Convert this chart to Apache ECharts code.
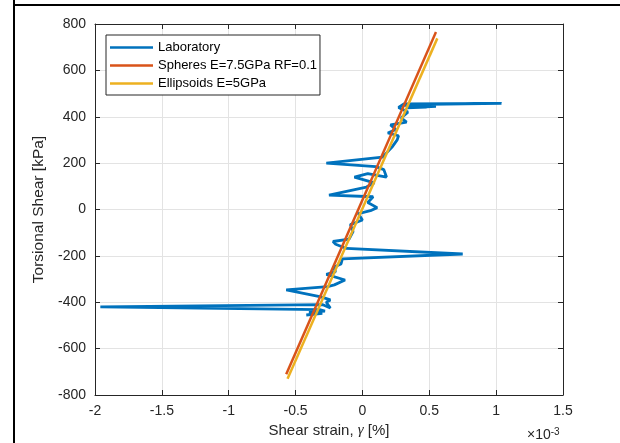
<!DOCTYPE html>
<html>
<head>
<meta charset="utf-8">
<script src="https://cdn.jsdelivr.net/npm/echarts@6/dist/echarts.min.js"></script>
<style>
html,body{margin:0;padding:0;background:#fff;}
#chart{width:620px;height:443px;}
</style>
</head>
<body>
<div id="chart"></div>
<script>
// Values are in units of 1e-3 on the x axis (displayed with "×10^-3")
const xTicks = [-2, -1.5, -1, -0.5, 0, 0.5, 1, 1.5];
const yTicks = [-800, -600, -400, -200, 0, 200, 400, 600, 800];
const seriesNames = ['Laboratory', 'Spheres E=7.5GPa RF=0.1', 'Ellipsoids E=5GPa'];

const labX = [-0.42,-0.30,-0.40,-0.28,-0.32,-1.96,-0.30,-0.24,-0.27,-0.24,-0.31,-0.57,-0.26,-0.21,-0.13,-0.27,-0.20,-0.22,-0.16,-0.15,0.75,-0.12,-0.20,-0.22,-0.10,-0.07,-0.09,0.00,-0.03,0.06,0.11,0.04,0.08,-0.25,0.03,0.09,-0.06,0.04,0.18,0.16,0.10,-0.27,0.15,0.22,0.26,0.27,0.19,0.25,0.21,0.33,0.29,0.34,0.27,0.31,1.04,0.36,0.55,0.33,0.48,0.30];
const labY = [-455,-448,-442,-438,-432,-420,-410,-425,-400,-390,-377,-347,-333,-325,-304,-280,-268,-250,-235,-213,-192,-168,-150,-138,-128,-95,-65,-45,-18,-5,8,30,55,62,97,115,140,155,140,172,185,200,226,268,300,318,330,345,365,377,395,420,440,455,458,452,445,438,442,450];

const spheresX = [-0.57, 0.55];
const spheresY = [-710, 765];
const ellipsoidsX = [-0.56, 0.56];
const ellipsoidsY = [-730, 738];

const zip = (a, b) => a.map((v, i) => [v, b[i]]);

const chart = echarts.init(document.getElementById('chart'), null, {renderer: 'canvas'});
const txt = '#262626';
const font = 'Liberation Sans, Arial, Helvetica, sans-serif';

const axisCommon = {
  axisLine: {show: true, onZero: false, lineStyle: {color: txt, width: 1}},
  axisTick: {show: true, inside: true, length: 5, lineStyle: {color: txt, width: 1}},
};

chart.setOption({
  animation: false,
  backgroundColor: '#fff',
  grid: {left: 95, right: 57, top: 24, bottom: 48, containLabel: false},
  legend: {
    data: seriesNames.map(n => ({name: n, icon: 'rect'})),
    orient: 'vertical',
    left: 106, top: 35,
    itemWidth: 43, itemHeight: 2.5, itemGap: 5,
    padding: [6, 3, 5, 4],
    borderColor: txt, borderWidth: 1,
    backgroundColor: '#fff',
    textStyle: {fontFamily: font, fontSize: 13, color: '#000'}
  },
  xAxis: [
    Object.assign({
      type: 'value', min: xTicks[0], max: xTicks[xTicks.length-1], interval: 0.5,
      position: 'bottom',
      axisLabel: {fontFamily: font, fontSize: 14, color: txt, margin: 9},
      splitLine: {show: true, lineStyle: {color: '#e3e3e3', width: 1}},
      name: '{n|Shear strain, }{g|γ}{n| [%]}',
      nameLocation: 'middle', nameGap: 28,
      nameTextStyle: {rich: {
        n: {fontFamily: font, fontSize: 15, color: txt},
        g: {fontFamily: 'Liberation Serif, DejaVu Serif, serif', fontStyle: 'italic', fontSize: 15, color: txt}
      }}
    }, axisCommon),
    Object.assign({
      type: 'value', min: xTicks[0], max: xTicks[xTicks.length-1], interval: 0.5,
      position: 'top', axisLabel: {show: false}, splitLine: {show: false}
    }, axisCommon)
  ],
  yAxis: [
    Object.assign({
      type: 'value', min: yTicks[0], max: yTicks[yTicks.length-1], interval: 200,
      position: 'left',
      axisLabel: {fontFamily: font, fontSize: 14, color: txt, margin: 9},
      splitLine: {show: true, lineStyle: {color: '#e3e3e3', width: 1}},
      name: 'Torsional Shear [kPa]',
      nameLocation: 'middle', nameGap: 42,
      nameTextStyle: {fontFamily: font, fontSize: 15.5, color: txt}
    }, axisCommon),
    Object.assign({
      type: 'value', min: yTicks[0], max: yTicks[yTicks.length-1], interval: 200,
      position: 'right', axisLabel: {show: false}, splitLine: {show: false}
    }, axisCommon)
  ],
  series: [
    {name: seriesNames[0], type: 'line', data: zip(labX, labY), symbol: 'none', showSymbol: false,
     lineStyle: {color: '#0072BD', width: 2.8}, itemStyle: {color: '#0072BD'}, z: 2},
    {name: seriesNames[1], type: 'line', data: zip(spheresX, spheresY), symbol: 'none', showSymbol: false,
     lineStyle: {color: '#D95319', width: 2.5}, itemStyle: {color: '#D95319'}, z: 3},
    {name: seriesNames[2], type: 'line', data: zip(ellipsoidsX, ellipsoidsY), symbol: 'none', showSymbol: false,
     lineStyle: {color: '#EDB120', width: 2.5}, itemStyle: {color: '#EDB120'}, z: 4}
  ],
  graphic: [
    {type: 'line', shape: {x1: 14, y1: 0, x2: 14, y2: 443}, style: {stroke: '#000', lineWidth: 2}},
    {type: 'line', shape: {x1: 13, y1: 5, x2: 620, y2: 5}, style: {stroke: '#000', lineWidth: 2}},
    {type: 'text', left: 527, top: 427, style: {
      text: '×10{s|-3}', rich: {s: {fontSize: 10, verticalAlign: 'top', padding: [0,0,6,0], fontFamily: font, fill: txt}},
      font: '14px ' + font, fill: txt}}
  ]
});
</script>
</body>
</html>
